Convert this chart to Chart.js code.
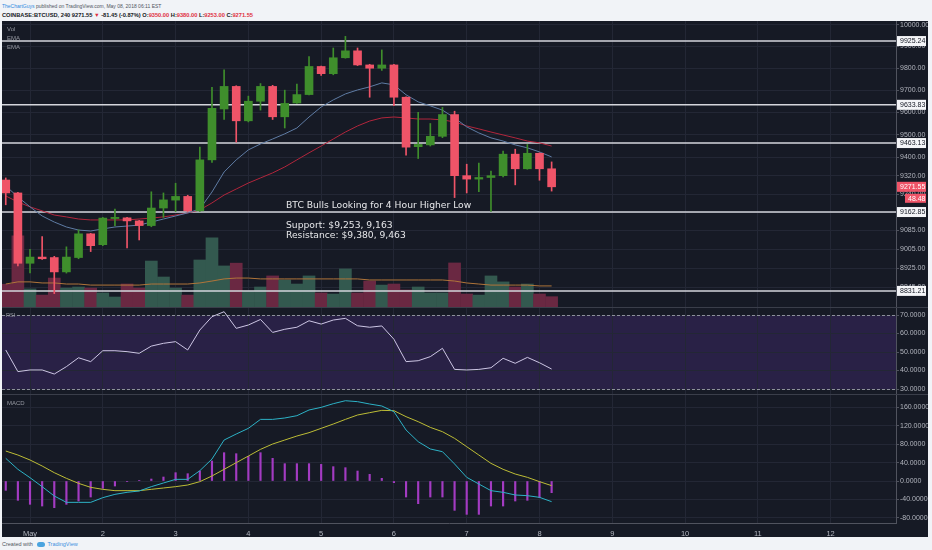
<!DOCTYPE html>
<html><head><meta charset="utf-8">
<script src="https://cdn.jsdelivr.net/npm/chart.js@4.4.0/dist/chart.umd.min.js"></script>
<style>
html,body{margin:0;padding:0;background:#f1f3f7;}
#wrap{position:relative;width:932px;height:550px;overflow:hidden;background:#f1f3f7;font-family:"Liberation Sans",Arial,sans-serif;}
#dark{position:absolute;left:2px;top:21px;width:926px;height:516px;background:#161a25;}
canvas{position:absolute;left:2px;}
.t{position:absolute;white-space:nowrap;}
.sep{position:absolute;left:2px;width:926px;height:1px;background:#3a3e4a;}
.lg{position:absolute;left:7px;font-size:6px;line-height:8px;color:#9598a1;}
.ann{position:absolute;left:286px;font-family:"DejaVu Sans",sans-serif;font-size:9.2px;line-height:11px;color:#e6e7ea;white-space:nowrap;}
</style></head>
<body>
<div id="wrap">
  <div class="t" style="left:2px;top:2px;font-size:5px;line-height:8px;color:#50535e;"><span style="color:#2f8ae0">TheChartGuys</span> published on TradingView.com, May 08, 2018 06:11 EST</div>
  <div class="t" style="left:2px;top:11px;font-size:5.7px;line-height:8px;color:#131722;font-weight:bold;">COINBASE:BTCUSD, 240 9271.55 <span style="color:#e0303f">▼</span> -81.45 (-0.87%) O:<span style="color:#e0303f">9350.00</span> H:<span style="color:#e0303f">9380.00</span> L:<span style="color:#e0303f">9253.00</span> C:<span style="color:#e0303f">9271.55</span></div>
  <div id="dark"></div>
  <canvas id="cMain" width="926" height="286" style="top:21px"></canvas>
  <canvas id="cRsi" width="926" height="86" style="top:308px"></canvas>
  <canvas id="cMacd" width="926" height="142" style="top:395px"></canvas>
  <div class="sep" style="top:307px"></div>
  <div class="sep" style="top:394px"></div>
  <div class="lg" style="top:25px">Vol</div>
  <div class="lg" style="top:34px">EMA</div>
  <div class="lg" style="top:43px">EMA</div>
  <div class="lg" style="top:311px;left:6px;font-size:5.5px">RSI</div>
  <div class="lg" style="top:399px">MACD</div>
  <div class="ann" style="top:199px">BTC Bulls Looking for 4 Hour Higher Low</div>
  <div class="ann" style="top:219px">Support: $9,253, 9,163</div>
  <div class="ann" style="top:229px">Resistance: $9,380, 9,463</div>
  <div class="t" style="left:2px;top:540px;font-size:5.5px;line-height:8px;color:#50535e;">Created with <span style="display:inline-block;width:8px;height:5px;background:#4aa3df;border-radius:3px;margin:0 2px 0 3px;vertical-align:middle"></span><span style="color:#3d8fe0">TradingView</span></div>
</div>
<script>
// 4-hour bar offsets from May 1 00:00 (EST)
const barIndex = [-2,-1,0,1,2,3,4,5,6,7,8,9,10,11,12,13,14,15,16,17,18,19,20,21,22,23,24,25,26,27,28,29,30,31,32,33,34,35,36,37,38,39,40,41,42,43];
const dayLabels = ['May','2','3','4','5','6','7','8','9','10','11','12'];

const openP  = [9301,9245,8946,8972,8970,8910,8970,9070,9024,9135,9138,9125,9105,9180,9214,9230,9168,9389,9615,9717,9562,9650,9717,9580,9642,9680,9808,9775,9848,9880,9815,9800,9815,9668,9447,9455,9493,9590,9320,9305,9312,9320,9414,9350,9418,9350];
const highP  = [9310,9248,9005,9058,8975,9015,9087,9072,9140,9175,9140,9127,9250,9245,9287,9235,9445,9713,9793,9720,9673,9730,9722,9700,9728,9853,9810,9893,9947,9893,9818,9884,9818,9670,9600,9550,9622,9605,9370,9375,9340,9428,9436,9457,9420,9380];
const lowP   = [9194,8935,8906,8962,8820,8905,8965,8995,9020,9105,9010,9044,9100,9140,9165,9165,9165,9378,9568,9467,9557,9610,9568,9530,9640,9678,9767,9770,9846,9812,9668,9790,9630,9410,9395,9450,9487,9225,9245,9250,9165,9315,9280,9348,9300,9253];
const closeP = [9245,8946,8972,8965,8910,8972,9070,9020,9137,9140,9125,9105,9180,9215,9230,9168,9389,9618,9717,9562,9650,9717,9580,9640,9680,9808,9775,9848,9880,9815,9800,9815,9668,9445,9457,9493,9590,9320,9305,9312,9320,9414,9350,9418,9350,9271.55];

const volume = [107,334,85,56,136,89,94,89,66,47,108,89,216,141,89,56,221,325,193,206,75,94,146,127,108,146,66,61,179,66,122,103,108,80,94,66,66,207,61,56,146,118,94,108,61,48.48];
const volMA  = [108,118,118,113,113,108,108,103,103,103,103,103,108,108,108,108,113,122,132,136,136,132,132,132,132,132,132,132,132,132,127,127,127,127,127,127,127,122,113,108,103,103,103,103,99,99];

const emaFast = [9275,9228,9185,9146,9120,9099,9086,9082,9091,9099,9103,9107,9120,9133,9146,9159,9176,9249,9336,9389,9433,9459,9481,9504,9530,9579,9624,9656,9683,9701,9715,9733,9724,9679,9647,9629,9610,9575,9535,9508,9486,9472,9455,9442,9424,9402];
const emaSlow = [9232,9206,9185,9168,9150,9142,9133,9129,9129,9129,9129,9133,9137,9142,9150,9159,9172,9202,9236,9262,9288,9310,9332,9358,9389,9420,9450,9481,9512,9539,9561,9575,9579,9575,9570,9570,9566,9557,9539,9526,9512,9499,9486,9472,9464,9450];

const rsi = [51.1,39.4,40.3,40.3,38.1,42.1,46.9,44.8,50.7,50.7,50.2,49.3,53.2,54.7,55.6,51.1,61.9,69.1,71.8,62.8,64.6,67.6,60.6,62.3,63.4,66.9,65.1,67.3,68.2,64.2,63.4,64.1,56.9,44.8,45.3,47.5,52.0,40.6,40.3,40.6,41.5,46.6,43.9,47.1,44.2,40.8];
const macd = [49.3,25.4,7.2,-12.3,-32.6,-46.4,-46.4,-46.4,-36.2,-29.0,-24.6,-21.7,-12.3,-4.3,3.6,3.6,22.5,47.8,89.1,102.2,114.5,134.0,134.0,137.0,142.0,154.4,160.1,168.1,174.6,172.5,167.4,163.1,150.7,110.9,85.5,69.6,63.8,37.0,8.0,-6.5,-21.0,-24.6,-30.4,-31.9,-35.5,-44.9];
const signal = [65.2,56.5,45.7,32.6,18.1,5.8,-5.1,-13.8,-18.1,-21.0,-21.0,-21.0,-18.1,-15.2,-12.3,-8.7,-1.4,10.9,25.4,39.9,54.3,68.8,80.4,89.1,97.8,105.1,114.5,123.9,134.0,143.5,148.6,153.6,152.9,139.9,129.0,116.6,107.2,92.7,74.6,56.5,38.4,25.4,15.2,8.0,-1.4,-10.1];
const hist = [-20.3,-42.0,-50.7,-54.4,-58.0,-50.7,-43.5,-34.8,-15.9,-10.9,-1.4,1.4,4.3,8.7,18.1,15.9,21.7,43.5,61.6,59.4,53.6,61.6,49.3,37.7,37.7,37.7,36.2,31.2,29.0,21.7,14.5,5.8,-3.6,-34.8,-49.3,-34.8,-34.8,-63.8,-72.5,-72.5,-54.4,-54.4,-43.5,-42.0,-36.2,-25.4];

const priceTicks = [10000,9900,9800,9700,9600,9500,9400,9320,9240,9160,9085,9005,8925,8845];
const levels = [9925.24,9633.83,9463.13,9162.85,8831.21];
const rsiTicks = [30,40,50,60,70];
const macdTicks = [-80,-40,0,40,80,120,160];

const UPC='#3f8e2c', DNC='#ef5468', VUP='#33594f', VDN='#6a2842';
const GRID='#232735', AXIS='#50535e', TXT='#b2b5be', FONT='Liberation Sans';
const up = barIndex.map((_,i)=>closeP[i]>=openP[i]);
const pts = arr => barIndex.map((x,i)=>({x, y:arr[i]}));

function xScale(show){
  return {type:'linear', min:-2.31, max:71.39, offset:false,
    afterBuildTicks(s){ s.ticks = dayLabels.map((_,k)=>({value:k*6})); },
    afterFit(s){ s.height = show?14:0; s.paddingLeft=0; s.paddingRight=0; s.paddingTop=0; s.paddingBottom=0; },
    grid:{color:GRID, drawTicks:false, offset:false},
    border:{display:show, color:AXIS},
    ticks:{display:show, color:TXT, font:{size:7.5,family:FONT}, padding:6, maxRotation:0, autoSkip:false,
      callback:(v)=>dayLabels[Math.round(v/6)]}
  };
}
function yRight(min,max,ticks,fmt){
  return {type:'linear', position:'right', min, max,
    afterBuildTicks(s){ s.ticks = ticks.map(v=>({value:v})); },
    afterFit(s){ s.width = 32; s.paddingTop=0; s.paddingBottom=0; s.paddingLeft=0; s.paddingRight=0; },
    grid:{color:GRID, tickLength:3, tickColor:AXIS},
    border:{color:AXIS},
    ticks:{color:TXT, font:{size:7,family:FONT}, padding:1, autoSkip:false, callback:fmt}
  };
}
const base = {responsive:false, animation:false, maintainAspectRatio:false, layout:{padding:0},
  plugins:{legend:{display:false}, tooltip:{enabled:false}}};

const mainDeco = {
  id:'mainDeco',
  afterDatasetDraw(chart,args){
    if(args.index!==1) return;
    const {ctx, chartArea:a} = chart; const y = chart.scales.y;
    ctx.save(); ctx.strokeStyle='#d4d6dc'; ctx.lineWidth=1.5;
    levels.forEach(v=>{ const py=y.getPixelForValue(v); ctx.beginPath(); ctx.moveTo(a.left,py); ctx.lineTo(a.right,py); ctx.stroke(); });
    ctx.restore();
  },
  afterDraw(chart){
    const {ctx, chartArea:a} = chart; const y = chart.scales.y; const w = chart.width;
    ctx.save(); ctx.font='7px "'+FONT+'"'; ctx.textBaseline='middle'; ctx.textAlign='left';
    levels.forEach(v=>{ const py=y.getPixelForValue(v);
      ctx.fillStyle='#f4f5f8'; ctx.fillRect(a.right+1,py-5,w-a.right-3,10);
      ctx.fillStyle='#131722'; ctx.fillText(v.toFixed(2), a.right+4, py+0.5); });
    const last = closeP[closeP.length-1]; const py = y.getPixelForValue(last);
    ctx.fillStyle='#ef5468'; ctx.fillRect(a.right+1,py-5,w-a.right-3,10);
    ctx.fillStyle='#ffffff'; ctx.fillText(last.toFixed(2), a.right+4, py+0.5);
    const vl = volume[volume.length-1];
    ctx.fillStyle='#ef5468'; ctx.fillRect(a.right+9,py+7,w-a.right-11,9);
    ctx.fillStyle='#ffffff'; ctx.fillText(vl.toFixed(2), a.right+12, py+12);
    ctx.restore();
  }
};

new Chart(document.getElementById('cMain'), {
  type:'bar',
  data:{datasets:[
    {type:'bar', yAxisID:'yv', data:pts(volume), backgroundColor:up.map(u=>u?VUP:VDN), barThickness:12, grouped:false, order:10},
    {type:'line', yAxisID:'yv', data:pts(volMA), borderColor:'#b0753a', borderWidth:1, pointRadius:0, order:9},
    {type:'line', yAxisID:'y', data:pts(emaSlow), borderColor:'#b2263c', borderWidth:1, pointRadius:0, order:6},
    {type:'line', yAxisID:'y', data:pts(emaFast), borderColor:'#5f7ca4', borderWidth:1, pointRadius:0, order:5},
    {type:'bar', yAxisID:'y', data:barIndex.map((x,i)=>({x, y:[lowP[i],highP[i]]})), backgroundColor:up.map(u=>u?UPC:DNC), barThickness:1, grouped:false, order:2},
    {type:'bar', yAxisID:'y', data:barIndex.map((x,i)=>({x, y:[openP[i],closeP[i]]})), backgroundColor:up.map(u=>u?UPC:DNC), barThickness:8, minBarLength:1, grouped:false, order:1}
  ]},
  options:Object.assign({}, base, {scales:{
    x:xScale(false),
    y:Object.assign(yRight(8765,10018.7,priceTicks,v=>Number(v).toFixed(2)), {type:'logarithmic'}),
    yv:{type:'linear', display:false, min:0, max:1344}
  }}),
  plugins:[mainDeco]
});

const rsiDeco = {
  id:'rsiDeco',
  beforeDraw(chart){
    const {ctx, chartArea:a} = chart; const y = chart.scales.y;
    const t = y.getPixelForValue(70), b = y.getPixelForValue(30);
    ctx.save(); ctx.fillStyle='rgba(110,60,190,0.22)'; ctx.fillRect(a.left,t,a.right-a.left,b-t); ctx.restore();
  },
  beforeDatasetsDraw(chart){
    const {ctx, chartArea:a} = chart; const y = chart.scales.y;
    ctx.save(); ctx.strokeStyle='#8d909b'; ctx.lineWidth=1; ctx.setLineDash([3,2]);
    [70,30].forEach(v=>{ const py=Math.round(y.getPixelForValue(v))+0.5; ctx.beginPath(); ctx.moveTo(a.left,py); ctx.lineTo(a.right,py); ctx.stroke(); });
    ctx.restore();
  }
};
new Chart(document.getElementById('cRsi'), {
  type:'line',
  data:{datasets:[{data:pts(rsi), borderColor:'#cdc6e4', borderWidth:1, pointRadius:0}]},
  options:Object.assign({}, base, {scales:{x:xScale(false), y:yRight(27.3,73.8,rsiTicks,v=>Number(v).toFixed(4))}}),
  plugins:[rsiDeco]
});

new Chart(document.getElementById('cMacd'), {
  type:'bar',
  data:{datasets:[
    {type:'bar', data:pts(hist), backgroundColor:'#a33bc2', barThickness:1.5, grouped:false, order:3},
    {type:'line', data:pts(signal), borderColor:'#bdbd36', borderWidth:1, pointRadius:0, order:2},
    {type:'line', data:pts(macd), borderColor:'#2db2c6', borderWidth:1, pointRadius:0, order:1}
  ]},
  options:Object.assign({}, base, {scales:{x:xScale(true), y:yRight(-91.3,187,macdTicks,v=>Number(v).toFixed(4))}})
});
</script>
</body></html>
